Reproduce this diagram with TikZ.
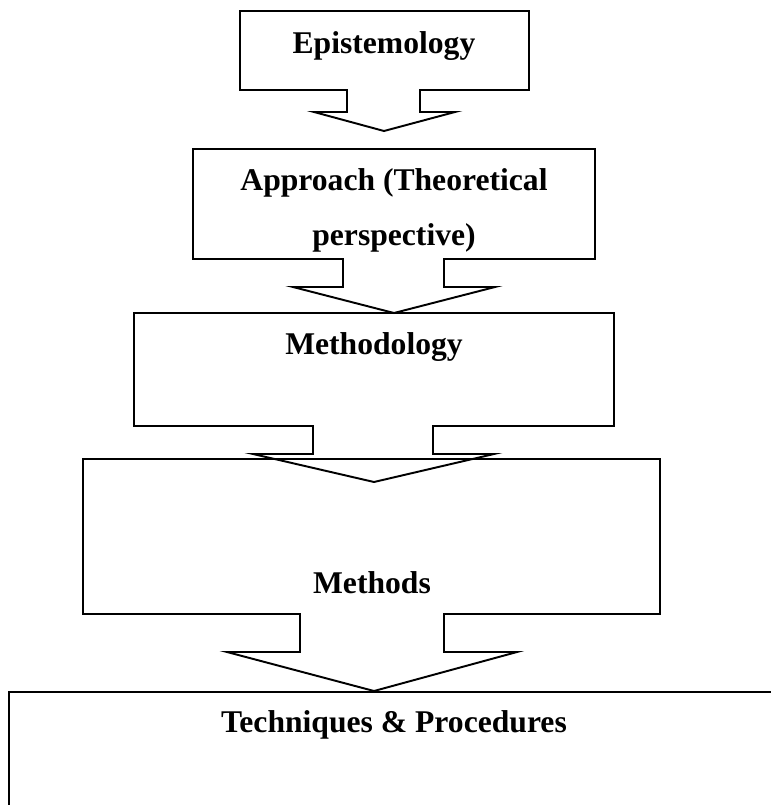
\documentclass[tikz,border=0pt]{standalone}
\usepackage{fontspec}
\setmainfont{Liberation Serif}
\tikzset{
  cbox/.style={draw, line width=1.1pt, line join=miter},
  clabel/.style={font=\fontsize{18}{31}\selectfont\bfseries, inner sep=0pt, anchor=base},
}

\begin{document}
\begin{tikzpicture}[x=0.02cm, y=-0.02cm]
    \useasboundingbox (0,0) rectangle (771,805);
    % callout boxes, top to bottom
    \draw[cbox] (347,90) -- (240,90) -- (240,11) -- (529,11) -- (529,90) -- (420,90)
      -- (420,112) -- (455,112) -- (384,131) -- (314,112) -- (347,112) -- cycle;
    \draw[cbox] (343,259) -- (193,259) -- (193,149) -- (595,149) -- (595,259) -- (444,259)
      -- (444,287) -- (495,287) -- (394,313) -- (293,287) -- (343,287) -- cycle;
    \draw[cbox] (313,426) -- (134,426) -- (134,313) -- (614,313) -- (614,426) -- (433,426)
      -- (433,454) -- (494,454) -- (374,482) -- (253,454) -- (313,454) -- cycle;
    \draw[cbox] (300,614) -- (83,614) -- (83,459) -- (660,459) -- (660,614) -- (444,614)
      -- (444,652) -- (517,652) -- (374,691) -- (227,652) -- (300,652) -- cycle;
    \draw[cbox] (9,805) -- (9,692) -- (771,692);
    % labels
    \node[clabel] (epi) at (384,53) {Epistemology};
    \node[clabel, align=center] (appr) at (394,245) {Approach (Theoretical\\perspective)};
    \node[clabel] (mthy) at (374,354) {Methodology};
    \node[clabel] (mths) at (372,593) {Methods};
    \node[clabel] (tech) at (394,732) {Techniques \& Procedures};
\end{tikzpicture}
\end{document}
